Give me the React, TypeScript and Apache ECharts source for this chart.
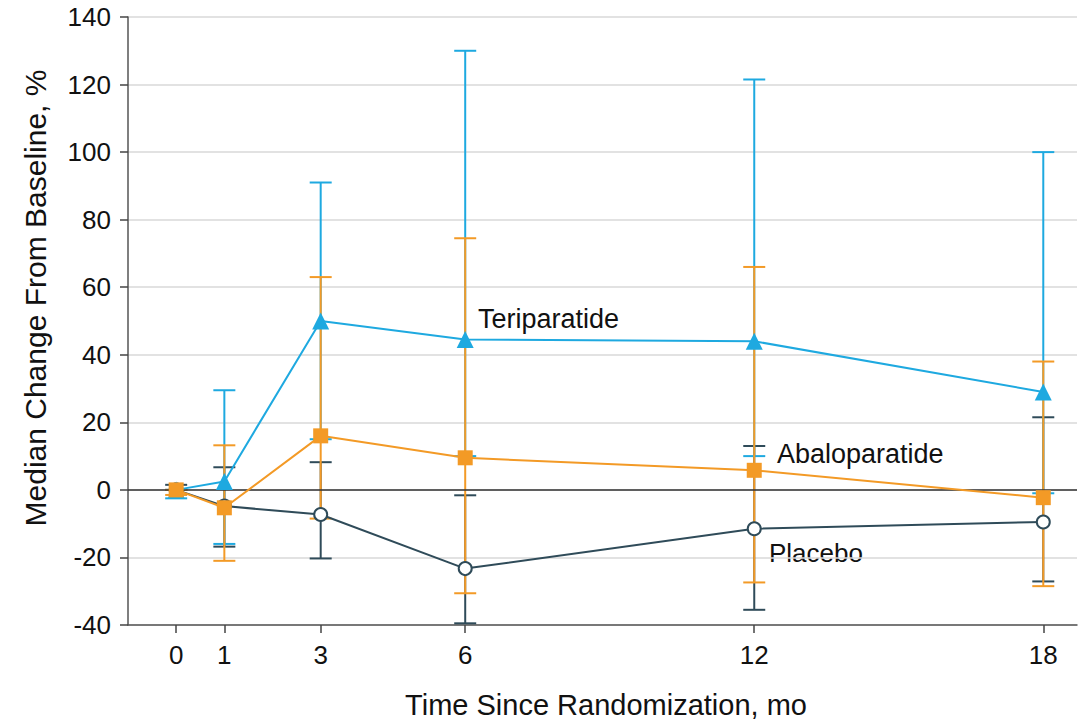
import React, { useEffect, useRef } from "react";
import * as echarts from "echarts";

const months = [0, 1, 3, 6, 12, 18];
const xTicks = [0, 1, 3, 6, 12, 18];

const teriparatide = [0, 2.5, 50, 44.5, 44, 29];
const teriLow = [-2.5, -16, 15, 10, 10, -1];
const teriHigh = [0, 29.5, 91, 130, 121.5, 100];

const abaloparatide = [0, -5.3, 16, 9.5, 5.8, -2.3];
const abaloLow = [-1.5, -21, -8.5, -30.6, -27.4, -28.5];
const abaloHigh = [0, 13.2, 63, 74.5, 66, 38];

const placebo = [0, -4.8, -7.3, -23.3, -11.5, -9.5];
const placLow = [0, -16.8, -20.3, -39.5, -35.5, -27.1];
const placHigh = [1.5, 6.7, 8.2, -1.6, 13, 21.5];

const BLUE = "#1ea9e0";
const ORANGE = "#f39a26";
const DARK = "#2f4b59";
const FONT = "'Liberation Sans', Arial, Roboto, sans-serif";

function errSeries(name: string, color: string, low: number[], high: number[], z: number) {
  return {
    type: "custom",
    name,
    z,
    renderItem: (params: any, api: any) => {
      const x = api.value(0);
      const lo = api.coord([x, api.value(1)]);
      const hi = api.coord([x, api.value(2)]);
      const hw = 11;
      const style = { stroke: color, lineWidth: 2 };
      return {
        type: "group",
        children: [
          { type: "line", shape: { x1: lo[0], y1: lo[1], x2: hi[0], y2: hi[1] }, style },
          { type: "line", shape: { x1: lo[0] - hw, y1: lo[1], x2: lo[0] + hw, y2: lo[1] }, style },
          { type: "line", shape: { x1: hi[0] - hw, y1: hi[1], x2: hi[0] + hw, y2: hi[1] }, style },
        ],
      };
    },
    encode: { x: 0, y: [1, 2] },
    data: months.map((m, i) => [m, low[i], high[i]]),
  };
}

export default function App() {
  const ref = useRef<HTMLDivElement>(null);
  useEffect(() => {
    if (!ref.current) return;
    const chart = echarts.init(ref.current, undefined, { renderer: "svg" });
    chart.setOption({
      animation: false,
      textStyle: { fontFamily: FONT },
      grid: { left: 128, right: 7, top: 17, bottom: 100, containLabel: false },
      xAxis: {
        type: "value",
        min: -1,
        max: 18.7,
        splitLine: { show: false },
        axisLine: { onZero: false, lineStyle: { color: "#555", width: 1.5 } },
        axisTick: { customValues: xTicks, length: 8, lineStyle: { color: "#444", width: 1.5 } },
        axisLabel: { customValues: xTicks, fontSize: 26, color: "#111", margin: 17, fontFamily: FONT },
      },
      yAxis: {
        type: "value",
        min: -40,
        max: 140,
        interval: 20,
        splitLine: { lineStyle: { color: "#d9d9d9", width: 1.5 } },
        axisLine: { show: true, onZero: false, lineStyle: { color: "#555", width: 1.5 } },
        axisTick: { show: true, length: 8, lineStyle: { color: "#444", width: 1.5 } },
        axisLabel: { fontSize: 26, color: "#111", margin: 17, fontFamily: FONT },
      },
      graphic: [
        {
          type: "text",
          x: 606,
          y: 705,
          style: { text: "Time Since Randomization, mo", fontSize: 29, fill: "#111", align: "center", verticalAlign: "middle", fontFamily: FONT },
        },
        {
          type: "text",
          x: 35,
          y: 298,
          rotation: Math.PI / 2,
          style: { text: "Median Change From Baseline, %", fontSize: 30, fill: "#111", align: "center", verticalAlign: "middle", fontFamily: FONT },
        },
        {
          type: "text",
          x: 478,
          y: 319,
          style: { text: "Teriparatide", fontSize: 27, fill: "#111", align: "left", verticalAlign: "middle", fontFamily: FONT },
        },
        {
          type: "text",
          x: 777,
          y: 454,
          style: { text: "Abaloparatide", fontSize: 27, fill: "#111", align: "left", verticalAlign: "middle", fontFamily: FONT },
        },
        {
          type: "text",
          x: 769,
          y: 553,
          style: { text: "Placebo", fontSize: 26, fill: "#111", align: "left", verticalAlign: "middle", fontFamily: FONT },
        },
      ],
      series: [
        errSeries("Placebo CI", DARK, placLow, placHigh, 1),
        errSeries("Teriparatide CI", BLUE, teriLow, teriHigh, 2),
        errSeries("Abaloparatide CI", ORANGE, abaloLow, abaloHigh, 3),
        {
          type: "line",
          name: "Zero",
          z: 3,
          data: [],
          markLine: {
            silent: true,
            symbol: "none",
            label: { show: false },
            lineStyle: { color: "#333", width: 1.5, type: "solid" },
            data: [{ yAxis: 0 }],
          },
        },
        {
          type: "line",
          name: "Placebo",
          z: 4,
          data: months.map((m, i) => [m, placebo[i]]),
          symbol: "circle",
          symbolSize: 13,
          lineStyle: { color: DARK, width: 2 },
          itemStyle: { color: "#fff", borderColor: DARK, borderWidth: 2 },
        },
        {
          type: "line",
          name: "Teriparatide",
          z: 5,
          data: months.map((m, i) => [m, teriparatide[i]]),
          symbol: "triangle",
          symbolSize: 17,
          lineStyle: { color: BLUE, width: 2 },
          itemStyle: { color: BLUE },
        },
        {
          type: "line",
          name: "Abaloparatide",
          z: 6,
          data: months.map((m, i) => [m, abaloparatide[i]]),
          symbol: "rect",
          symbolSize: 15,
          lineStyle: { color: ORANGE, width: 2 },
          itemStyle: { color: ORANGE },
        },
      ],
    });
    return () => chart.dispose();
  }, []);
  return <div ref={ref} style={{ width: 1084, height: 725, position: "absolute", left: 0, top: 0 }} />;
}
